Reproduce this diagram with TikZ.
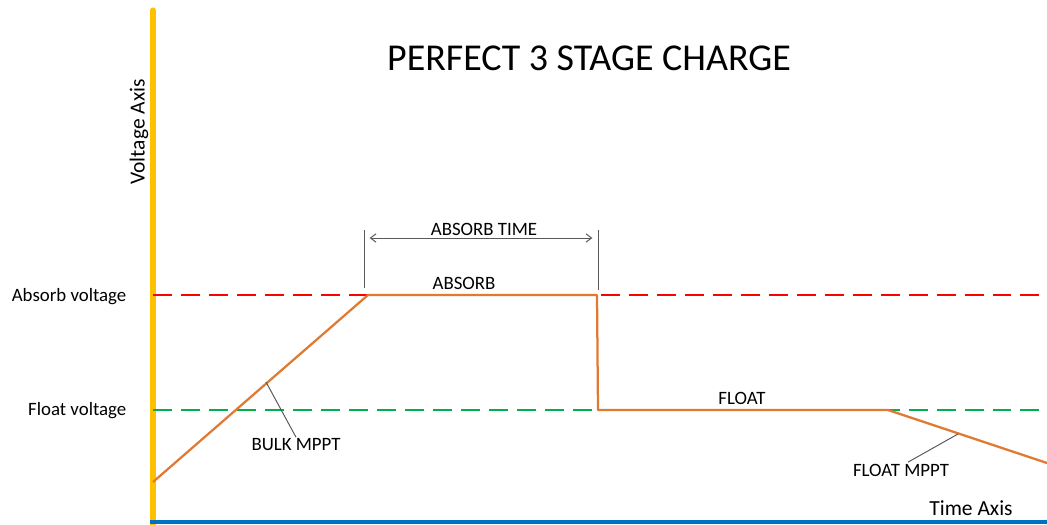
\documentclass[tikz,border=0pt]{standalone}
\usepackage{fontspec}
\setmainfont{Carlito}
\usetikzlibrary{arrows.meta}
\definecolor{axisyellow}{HTML}{FFC000}
\definecolor{axisblue}{HTML}{0070C0}
\definecolor{absorbred}{HTML}{FF0000}
\definecolor{floatgreen}{HTML}{00B050}
\definecolor{chargeorange}{HTML}{E07A32}
\definecolor{leadergray}{HTML}{595959}

\begin{document}
\begin{tikzpicture}[x=0.025cm,y=-0.025cm]
    \pgfmathsetmacro{\absorby}{295}
    \pgfmathsetmacro{\floaty}{410}
    \pgfmathsetmacro{\originx}{153}
    \providecommand{\titlefontsize}{\fontsize{27pt}{32pt}\selectfont}
    \providecommand{\axisfontsize}{\fontsize{15.3pt}{18pt}\selectfont}
    \providecommand{\labelfontsize}{\fontsize{13.4pt}{16pt}\selectfont}
    \tikzset{
        levelline/.style={line width=2.1pt,dash pattern=on 13.5pt off 6.4pt},
        chargeline/.style={line width=1.6pt,chargeorange},
        leader/.style={line width=0.7pt,leadergray},
        lbl/.style={inner sep=1pt,font=\labelfontsize}
    }
    \useasboundingbox (0,0) rectangle (1047,525);
    % axes
    \coordinate (ytop) at (\originx,10);
    \coordinate (ybot) at (\originx,525);
    \coordinate (xleft) at (150,522);
    \coordinate (xright) at (1047,522);
    \draw[line width=3.6pt,axisyellow,line cap=round] (ybot) -- (ytop);
    \draw[line width=2.9pt,axisblue] (xleft) -- (xright);
    \node[rotate=90,font=\axisfontsize] (vaxis) at (139,132) {Voltage Axis};
    \node[font=\axisfontsize] (taxis) at (971,508) {Time Axis};
    \node[font=\titlefontsize] (title) at (589,58) {PERFECT 3 STAGE CHARGE};
    % voltage levels
    \coordinate (absorbleft) at (\originx,\absorby);
    \coordinate (absorbright) at (1047,\absorby);
    \coordinate (floatleft) at (\originx,\floaty);
    \coordinate (floatright) at (1047,\floaty);
    \draw[levelline,absorbred] (absorbleft) -- (absorbright);
    \draw[levelline,floatgreen] (floatleft) -- (floatright);
    \node[lbl,anchor=east] (absorbv) at (128,297) {Absorb voltage};
    \node[lbl,anchor=east] (floatv) at (128,411) {Float voltage};
    % charge curve
    \coordinate (c0) at (\originx,482);
    \coordinate (c1) at (368,\absorby);
    \coordinate (c2) at (597,\absorby);
    \coordinate (c3) at (598,\floaty);
    \coordinate (c4) at (888,\floaty);
    \coordinate (c5) at (1047,463);
    \draw[chargeline,line join=round] (c0) -- (c1) -- (c2) -- (c3) -- (c4) -- (c5);
    \node[lbl] (absorb) at (464,283) {ABSORB};
    \node[lbl] (float) at (742,398) {FLOAT};
    % absorb time
    \coordinate (t1top) at (364,230);
    \coordinate (t1bot) at (364,288);
    \coordinate (t2top) at (598,230);
    \coordinate (t2bot) at (598,290);
    \draw[leader] (t1top) -- (t1bot);
    \draw[leader] (t2top) -- (t2bot);
    \draw[leader,{Straight Barb[length=4pt,width=6pt]}-{Straight Barb[length=4pt,width=6pt]}] ([xshift=4pt]t1top|-0,238) -- ([xshift=-4pt]t2top|-0,238);
    \node[lbl] (absorbtime) at (484,229) {ABSORB TIME};
    % mppt leaders
    \node[lbl] (bulk) at (296,445) {BULK MPPT};
    \node[lbl] (fmppt) at (901,470) {FLOAT MPPT};
    \coordinate (bulktip) at (266,382);
    \coordinate (fmppttip) at (958,434);
    \draw[leader] (bulktip) -- (bulk.north);
    \draw[leader] (fmppttip) -- ([xshift=5pt]fmppt.north);
\end{tikzpicture}
\end{document}
